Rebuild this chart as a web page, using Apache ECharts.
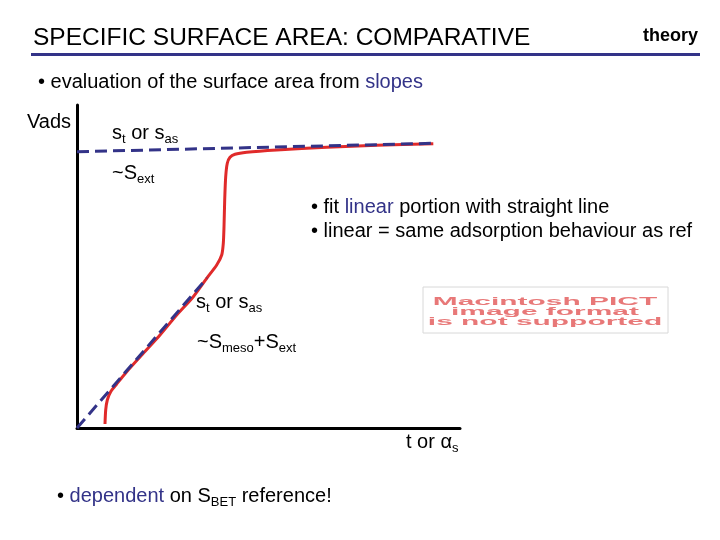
<!DOCTYPE html>
<html>
<head>
<meta charset="utf-8">
<script src="https://cdn.jsdelivr.net/npm/echarts@6/dist/echarts.min.js"></script>
<style>
    html, body { margin: 0; padding: 0; background: #fff; }
    #chart { width: 720px; height: 540px; }
</style>
</head>
<body>
<div id="chart"></div>
<script>
// isotherm (t-plot / alpha-s plot), arbitrary units
var curveX = [28, 28.7, 30.3, 33.7, 39.7, 49.7, 66.3, 83, 99.7, 116.3, 129.7, 139.7, 144.7, 146.3, 147, 147.7, 148.7, 150.3, 153, 158, 169.7, 199.7, 249.7, 299.7, 356.3];
var curveY = [4, 18, 28, 36.3, 44, 56.3, 74.7, 93, 113, 131.3, 149.7, 163, 173, 184.7, 201, 228, 251.3, 264.7, 270.7, 273.7, 275.7, 278, 280.7, 282.7, 284.3];
// fitted straight lines
var lowFitX = [0, 130];
var lowFitY = [0, 150];
var highFitX = [0, 356.3];
var highFitY = [276.3, 284.7];
var axisMaxX = 383;
var axisMaxY = 323;

var NAVY = '#333388';
var RED = '#e02a2a';
var FONT = '"Liberation Sans", Arial, sans-serif';

function pairs(xs, ys) {
    return xs.map(function (x, i) { return [x, ys[i]]; });
}

// text runs: m = normal, b = navy, s = subscript
var ctx = document.createElement('canvas').getContext('2d');
function measure(str, size) {
    ctx.font = size + 'px ' + FONT;
    return ctx.measureText(str).width;
}
function line(x, y, runs) {
    var out = [];
    runs.forEach(function (r) {
        var kind = r[0], str = r[1];
        var size = kind === 's' ? 13 : 20;
        out.push({
            type: 'text', x: x, y: kind === 's' ? y + 6.5 : y,
            style: { text: str, fontSize: size, fontFamily: FONT, fill: kind === 'b' ? NAVY : '#000', align: 'left', verticalAlign: 'middle' }
        });
        x += measure(str, size);
    });
    return out;
}
function pict(y, str) {
    return { type: 'text', x: 545, y: y, scaleX: 2.72, style: { text: str, fontSize: 11, fontWeight: 'bold', fontFamily: FONT, fill: '#e87878', align: 'center', verticalAlign: 'middle' } };
}

var texts = [].concat(
    [{ type: 'text', x: 33, y: 38, style: { text: 'SPECIFIC SURFACE AREA: COMPARATIVE', fontSize: 24.5, fontFamily: FONT, fill: '#000', verticalAlign: 'middle' } },
     { type: 'text', x: 643, y: 36, style: { text: 'theory', fontSize: 18, fontWeight: 'bold', fontFamily: FONT, fill: '#000', verticalAlign: 'middle' } },
     { type: 'rect', shape: { x: 31, y: 53, width: 669, height: 3 }, style: { fill: NAVY } }],
    line(38, 82, [['m', '• evaluation of the surface area from '], ['b', 'slopes']]),
    line(27, 122, [['m', 'Vads']]),
    line(112, 133, [['m', 's'], ['s', 't'], ['m', ' or s'], ['s', 'as']]),
    line(112, 173, [['m', '~S'], ['s', 'ext']]),
    line(311, 207, [['m', '• fit '], ['b', 'linear'], ['m', ' portion with straight line']]),
    line(311, 231, [['m', '• linear = same adsorption behaviour as ref']]),
    line(196, 302, [['m', 's'], ['s', 't'], ['m', ' or s'], ['s', 'as']]),
    line(197, 342, [['m', '~S'], ['s', 'meso'], ['m', '+S'], ['s', 'ext']]),
    line(406, 442, [['m', 't or α'], ['s', 's']]),
    line(57, 496, [['m', '• '], ['b', 'dependent'], ['m', ' on S'], ['s', 'BET'], ['m', ' reference!']]),
    [{ type: 'rect', shape: { x: 423, y: 287, width: 245, height: 46 }, style: { fill: '#fff', stroke: '#d8d8d8', lineWidth: 1 } },
     pict(302, 'Macintosh PICT'),
     pict(312, 'image format'),
     pict(322, 'is not supported')]
);

var chart = echarts.init(document.getElementById('chart'));
chart.setOption({
    backgroundColor: '#fff',
    animation: false,
    grid: { left: 77, top: 105, width: 383, height: 323 },
    xAxis: {
        type: 'value', min: 0, max: axisMaxX,
        axisLine: { show: true, lineStyle: { color: '#000', width: 3 } },
        axisTick: { show: false }, axisLabel: { show: false }, splitLine: { show: false }
    },
    yAxis: {
        type: 'value', min: 0, max: axisMaxY,
        axisLine: { show: true, lineStyle: { color: '#000', width: 3 } },
        axisTick: { show: false }, axisLabel: { show: false }, splitLine: { show: false }
    },
    series: [
        {
            type: 'line', data: pairs(curveX, curveY), showSymbol: false, smooth: 0.25,
            lineStyle: { color: RED, width: 3 }, z: 2
        },
        {
            type: 'line', data: pairs(lowFitX, lowFitY), showSymbol: false,
            lineStyle: { color: NAVY, width: 3, type: [12, 6] }, z: 3
        },
        {
            type: 'line', data: pairs(highFitX, highFitY), showSymbol: false,
            lineStyle: { color: NAVY, width: 3, type: [12, 6] }, z: 3
        }
    ],
    graphic: texts
});
</script>
</body>
</html>
